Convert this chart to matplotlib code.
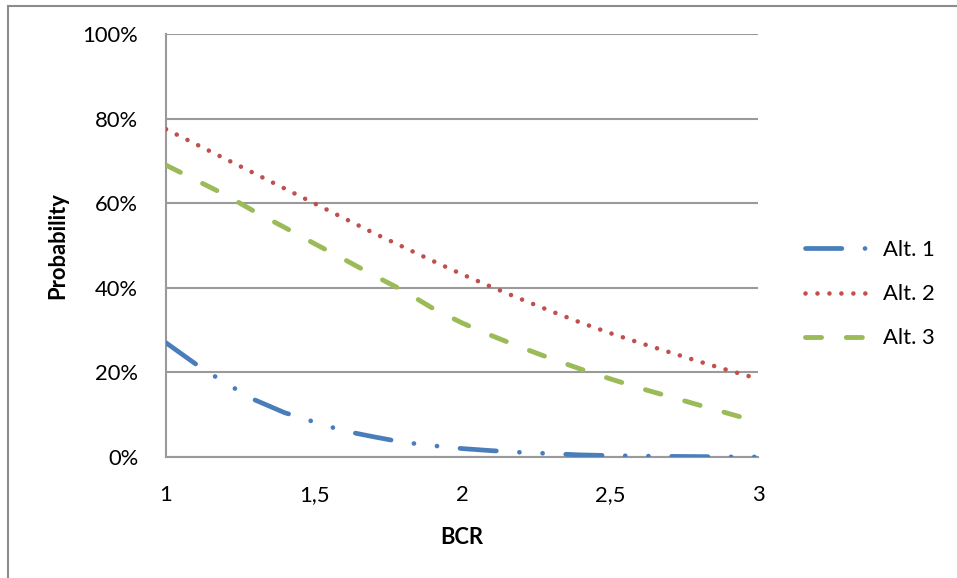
import matplotlib.pyplot as plt
from matplotlib.patches import Rectangle
from matplotlib.ticker import FuncFormatter

bcr = [1.0, 1.1, 1.2, 1.3, 1.4, 1.5, 1.6, 1.7, 1.8, 1.9, 2.0,
       2.1, 2.2, 2.3, 2.4, 2.5, 2.6, 2.7, 2.8, 2.9, 3.0]
alt1 = [27.0, 22.0, 17.5, 13.5, 10.5, 8.3, 6.2, 4.8, 3.5, 2.7, 2.0,
        1.5, 1.1, 0.8, 0.5, 0.35, 0.25, 0.15, 0.1, 0.05, 0.03]
alt2 = [77.5, 74.0, 70.5, 67.0, 63.5, 60.0, 56.5, 53.0, 49.7, 46.4, 43.2,
        40.2, 37.3, 34.5, 31.8, 29.3, 27.0, 24.8, 22.6, 20.5, 18.5]
alt3 = [69.0, 65.5, 62.0, 58.0, 54.3, 50.5, 46.8, 43.0, 39.4, 35.2, 31.7,
        28.7, 25.9, 23.3, 20.8, 18.5, 16.3, 14.3, 12.3, 10.3, 8.3]
labels = ['Alt. 1', 'Alt. 2', 'Alt. 3']

plt.rcParams['font.family'] = ['Lato', 'DejaVu Sans']

fig = plt.figure(figsize=(9.57, 5.78), dpi=100, facecolor='white')
ax = fig.add_axes([0.1735, 0.2093, 0.6186, 0.7318])

ax.plot(bcr, alt1, color='#4A7EBB', lw=3.4, linestyle=(0, (7.7, 4.9, 0.01, 4.9, 0.01, 4.9)),
        dash_capstyle='round', label=labels[0], zorder=3)
ax.plot(bcr, alt2, color='#C0504D', lw=3.3, linestyle=(0, (0.01, 2.6)),
        dash_capstyle='round', label=labels[1], zorder=3)
ax.plot(bcr, alt3, color='#9BBB59', lw=3.5, linestyle=(0, (3.3, 5.1)),
        dash_capstyle='round', label=labels[2], zorder=3)

ax.set_xlim(1, 3)
ax.set_ylim(0, 100)
ax.set_xticks([1, 1.5, 2, 2.5, 3])
ax.set_xticklabels(['1', '1,5', '2', '2,5', '3'])
ax.set_yticks(range(0, 101, 20))
ax.yaxis.set_major_formatter(FuncFormatter(lambda v, p: '%d%%' % v))
ax.tick_params(length=0, labelsize=15.8, colors='black')
ax.tick_params(axis='y', pad=20)
ax.tick_params(axis='x', pad=20)

ax.grid(axis='y', color='#9a9a9a', lw=1.5)
ax.set_axisbelow(True)
for s in ['top', 'right']:
    ax.spines[s].set_visible(False)
for s in ['left', 'bottom']:
    ax.spines[s].set_color('#9a9a9a')
    ax.spines[s].set_linewidth(1.5)

ax.set_xlabel('BCR', fontsize=15.8, fontweight='bold', labelpad=16)
ax.set_ylabel('Probability', fontsize=15.8, fontweight='bold', labelpad=10)

fig.legend(loc='center left', bbox_to_anchor=(0.841, 0.491), frameon=False,
           fontsize=15.8, handlelength=3.0, handletextpad=0.55, labelspacing=1.1,
           borderpad=0, borderaxespad=0)

# chart border (only top and left edges visible in the crop)
fig.patches.append(Rectangle((8 / 957, -0.5), 2, 1.5 - 6 / 578, transform=fig.transFigure,
                             fill=False, edgecolor='#8c8c8c', lw=1.5))

fig.savefig('out.png', dpi=100)
